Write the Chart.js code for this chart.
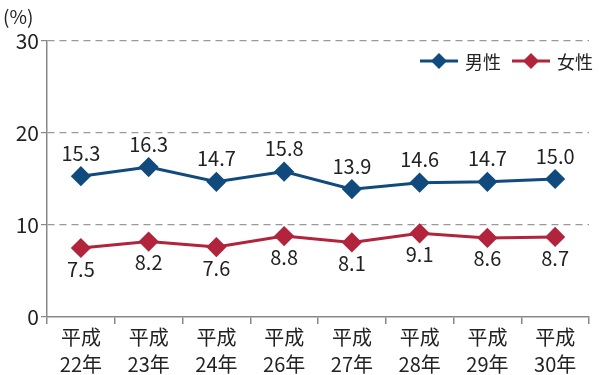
<!DOCTYPE html>
<html><head><meta charset="utf-8">
<script src="https://cdn.jsdelivr.net/npm/chart.js@4"></script>
<style>html,body{margin:0;padding:0;background:#fff;}#wrap{width:600px;height:375px;}</style>
</head><body><div id="wrap"><canvas id="c" width="600" height="375"></canvas></div>
<script>
const categories = [["平成","22年"],["平成","23年"],["平成","24年"],["平成","26年"],["平成","27年"],["平成","28年"],["平成","29年"],["平成","30年"]];
const maleValues = [15.3,16.3,14.7,15.8,13.9,14.6,14.7,15.0];
const femaleValues = [7.5,8.2,7.6,8.8,8.1,9.1,8.6,8.7];
const yTicks = [0,10,20,30];
const seriesNames = ["男性","女性"];
const MALE = "#114a7c", FEMALE = "#b2233c";
const FONT = "'Noto Sans CJK JP', 'Noto Sans', sans-serif";

const labelPlugin = {
  id:'labels',
  afterDatasetsDraw(chart){
    const ctx = chart.ctx;
    ctx.save();
    ctx.font = "20px " + FONT;
    ctx.fillStyle = "#222";
    ctx.textAlign = "center";
    ctx.textBaseline = "middle";
    chart.data.datasets.forEach((ds,i)=>{
      const meta = chart.getDatasetMeta(i);
      meta.data.forEach((pt,j)=>{
        const v = ds.data[j].toFixed(1);
        const dy = i===0 ? -23 : 21;
        ctx.fillText(v, pt.x, pt.y+dy);
      });
    });
    // (%) label
    ctx.textAlign = "left";
    ctx.font = "19px " + FONT;
    ctx.fillText("(%)", 3, 17);
    // legend
    const items = [[seriesNames[0], MALE, 423],[seriesNames[1], FEMALE, 515]];
    const ly = 61;
    items.forEach(([name,col,x])=>{
      ctx.strokeStyle = col; ctx.lineWidth = 3;
      ctx.beginPath(); ctx.moveTo(x-3, ly); ctx.lineTo(x+35, ly); ctx.stroke();
      ctx.fillStyle = col;
      ctx.beginPath(); ctx.moveTo(x+16, ly-8); ctx.lineTo(x+24, ly); ctx.lineTo(x+16, ly+8); ctx.lineTo(x+8, ly); ctx.closePath(); ctx.fill();
      ctx.fillStyle = "#222"; ctx.font = "18px " + FONT; ctx.textAlign = "left";
      ctx.fillText(name, x+42, ly+1);
    });
    ctx.restore();
  }
};

new Chart(document.getElementById('c'), {
  type:'line',
  data:{
    labels: categories,
    datasets:[
      {label:seriesNames[0], data:maleValues, borderColor:MALE, backgroundColor:MALE, borderWidth:3, pointStyle:'rectRot', pointRadius:8, pointHoverRadius:8, tension:0},
      {label:seriesNames[1], data:femaleValues, borderColor:FEMALE, backgroundColor:FEMALE, borderWidth:3, pointStyle:'rectRot', pointRadius:8, pointHoverRadius:8, tension:0}
    ]
  },
  options:{
    responsive:false, animation:false,
    layout:{padding:{left:0,right:7,top:41,bottom:0}},
    plugins:{legend:{display:false}, tooltip:{enabled:false}},
    scales:{
      x:{
        offset:true,
        grid:{offset:true, drawOnChartArea:false, drawTicks:true, tickLength:7, color:'#888', lineWidth:1.5},
        border:{display:true, color:'#888', width:1.5},
        ticks:{color:'#222', font:{size:20, family:FONT, lineHeight:1.35}, maxRotation:0, autoSkip:false, padding:0},
        afterFit(s){ s.height = 58; }
      },
      y:{
        min:0, max:30,
        afterBuildTicks(s){ s.ticks = yTicks.map(v=>({value:v})); },
        grid:{color:(c)=> c.tick.value===0 ? 'rgba(0,0,0,0)' : '#999', lineWidth:1.2, drawTicks:true, tickLength:6, tickColor:'#888', tickBorderDash:[]},
        border:{display:true, color:'#888', width:1.5, dash:[7,5]},
        ticks:{color:'#222', font:{size:21, family:FONT}, padding:2},
        afterFit(s){ s.width = 47; }
      }
    }
  },
  plugins:[labelPlugin]
});
</script></body></html>
